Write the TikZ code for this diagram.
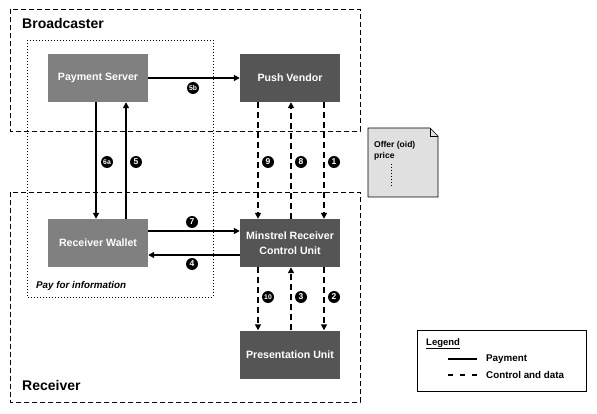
\documentclass[tikz,border=0pt]{standalone}
\usepackage{fontspec}
\setmainfont{Liberation Sans}
\usetikzlibrary{arrows.meta}
\definecolor{boxgray}{HTML}{808080}
\definecolor{boxdark}{HTML}{555555}
\definecolor{notegray}{HTML}{E0E0E0}
\begin{document}
\begin{tikzpicture}[x=1pt,y=-1pt,
  lightbox/.style={fill=boxgray,text=white,minimum width=100pt,minimum height=48pt,inner sep=0pt,font=\fontsize{10.6}{15}\selectfont\bfseries,align=center},
  darkbox/.style={lightbox,fill=boxdark},
  region/.style={draw=black,line width=0.8pt,dash pattern=on 5pt off 3pt},
  dotregion/.style={draw=black,line width=0.8pt,dash pattern=on 0.8pt off 2.2pt},
  pay/.style={line width=2.2pt,-{Triangle[length=6pt,width=6pt]}},
  ctrl/.style={line width=2.2pt,dash pattern=on 6pt off 4pt,-{Triangle[length=6pt,width=6pt]}},
  num/.style={circle,fill=black,text=white,inner sep=0pt,minimum size=12pt,font=\fontsize{8.5}{8.5}\selectfont\bfseries},
  numtwo/.style={num,font=\fontsize{6.8}{6.8}\selectfont\bfseries},
  title/.style={anchor=base west,font=\fontsize{14}{14}\selectfont\bfseries},
]
\useasboundingbox[fill=white] (0,0) rectangle (597,414);
% regions
\draw[region] (10,9) rectangle (360,131);
\draw[region] (10,192) rectangle (360,402);
\draw[dotregion] (27,40) rectangle (213,297);
\node[title,inner sep=0pt] (tb) at (22,29) {Broadcaster};
\node[title,inner sep=0pt] (tr) at (22,390) {Receiver};
\node[anchor=base west,inner sep=0pt,font=\fontsize{9.8}{10}\selectfont\bfseries\itshape] (pfi) at (36,288) {Pay for information};
% boxes
\node[lightbox] (ps) at (98,78) {Payment Server};
\node[darkbox] (pv) at (290,78) {Push Vendor};
\node[lightbox] (rw) at (98,243) {Receiver Wallet};
\node[darkbox] (mr) at (290,243) {Minstrel Receiver\\Control Unit};
\node[darkbox] (pu) at (290,354.5) {Presentation Unit};
% payment arrows
\draw[pay] (ps.east) -- (pv.west);
\draw[pay] ([xshift=-2pt]ps.south) -- ([xshift=-2pt]rw.north);
\draw[pay] ([xshift=28pt]rw.north) -- ([xshift=28pt]ps.south);
\draw[pay] ([yshift=12pt]rw.east) -- ([yshift=12pt]mr.west);
\draw[pay] ([yshift=-12pt]mr.west) -- ([yshift=-12pt]rw.east);
% control arrows
\draw[ctrl] ([xshift=-32pt]pv.south) -- ([xshift=-32pt]mr.north);
\draw[ctrl] ([xshift=1pt]mr.north) -- ([xshift=1pt]pv.south);
\draw[ctrl] ([xshift=34pt]pv.south) -- ([xshift=34pt]mr.north);
\draw[ctrl] ([xshift=-32pt]mr.south) -- ([xshift=-32pt]pu.north);
\draw[ctrl] ([xshift=1pt]pu.north) -- ([xshift=1pt]mr.south);
\draw[ctrl] ([xshift=34pt]mr.south) -- ([xshift=34pt]pu.north);
% number labels
\node[numtwo] (n5b) at (193,88) {5b};
\node[numtwo] (n6a) at (107,162) {6a};
\node[num] (n5) at (136,162) {5};
\node[num] (n7) at (192,222) {7};
\node[num] (n4) at (192,264) {4};
\node[num] (n9) at (268,162) {9};
\node[num] (n8) at (301,162) {8};
\node[num] (n1) at (334,162) {1};
\node[numtwo] (n10) at (268,297) {10};
\node[num] (n3) at (301,297) {3};
\node[num] (n2) at (334,297) {2};
% note
\draw[fill=notegray,line width=0.6pt] (368,128) -- (430,128) -- (438,136) -- (438,197) -- (368,197) -- cycle;
\draw[line width=0.6pt] (430,128) -- (430,136) -- (438,136);
\node[anchor=base west,inner sep=0pt,font=\fontsize{8.5}{8.5}\selectfont\bfseries] (nt1) at (374,148) {Offer (oid)};
\node[anchor=base west,inner sep=0pt,font=\fontsize{8.5}{8.5}\selectfont\bfseries] (nt2) at (374,159) {price};
\draw[line width=0.8pt,dash pattern=on 1pt off 2pt] (391,164) -- (391,186);
% legend
\draw[line width=0.8pt] (417,330) rectangle (586,391);
\node[anchor=base west,inner sep=0pt,font=\fontsize{9.5}{10}\selectfont\bfseries] (lg) at (426,345) {\underline{Legend}};
\coordinate (l1a) at (448,359);
\coordinate (l1b) at (477,359);
\coordinate (l2a) at (448,375);
\coordinate (l2b) at (477,375);
\draw[line width=1.5pt] (l1a) -- (l1b);
\draw[line width=1.5pt,dash pattern=on 5pt off 7pt] (l2a) -- (l2b);
\node[anchor=west,inner sep=0pt,font=\fontsize{9.8}{10}\selectfont\bfseries] (lp) at (486,359) {Payment};
\node[anchor=west,inner sep=0pt,font=\fontsize{9.8}{10}\selectfont\bfseries] (lc) at (486,375) {Control and data};
\end{tikzpicture}
\end{document}
